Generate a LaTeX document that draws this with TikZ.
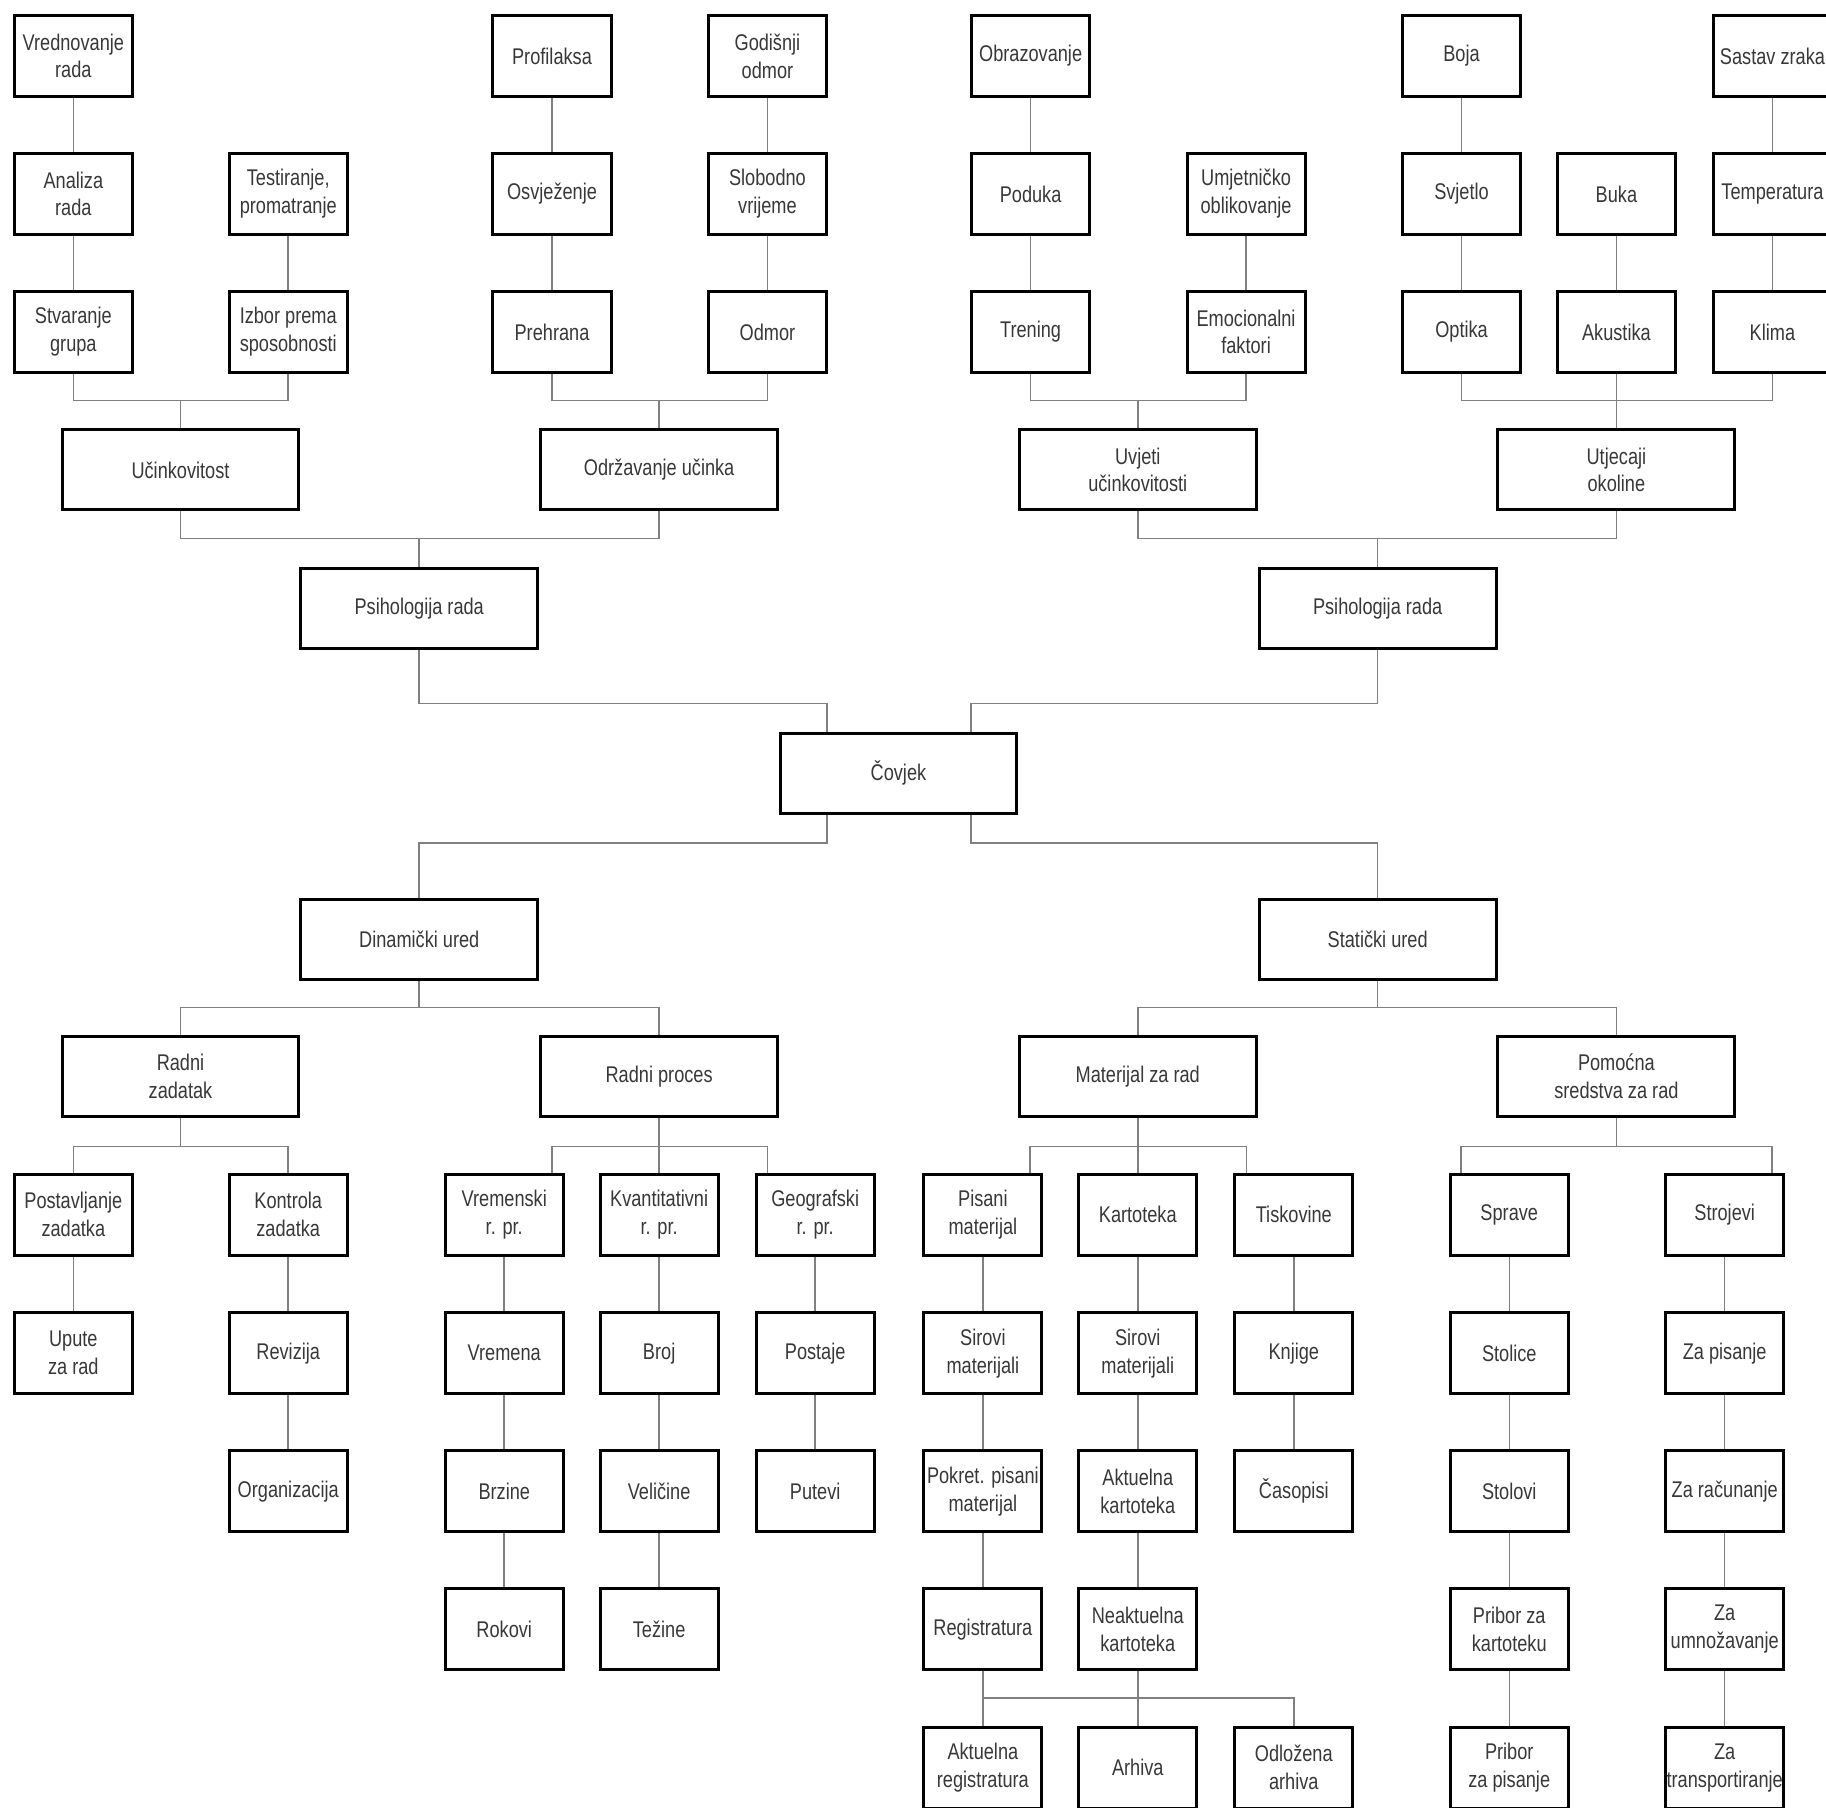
\documentclass[tikz,border=0pt]{standalone}
\usepackage{fontspec}
\setmainfont{Liberation Sans}[FakeStretch=0.8]
\begin{document}
\begin{tikzpicture}[x=1pt,y=-1pt,
  bx/.style={draw=black, line width=2.6pt, rectangle, minimum width=101.4pt,
    minimum height=69.4pt, inner sep=0pt, align=center,
    font=\fontsize{19.5}{24}\selectfont, text=black!78},
  lb/.style={bx, minimum width=203.4pt, minimum height=68.8pt},
  conn/.style={draw=black!50, line width=1.3pt}]
\path[fill=white, use as bounding box] (0,0) rectangle (1568,1551.7);

% ---- top groups ----
\node[bx] (vr)   at (63,48)      {Vrednovanje\\rada};
\node[bx] (an)   at (63,166.5)   {Analiza\\rada};
\node[bx] (stv)  at (63,285)     {Stvaranje\\grupa};
\node[bx] (tes)  at (247.5,166.5){Testiranje,\\promatranje};
\node[bx] (izb)  at (247.5,285)  {Izbor prema\\sposobnosti};
\node[bx] (pro)  at (474,48)     {Profilaksa};
\node[bx] (god)  at (659,48)     {Godišnji\\odmor};
\node[bx] (osv)  at (474,166.5)  {Osvježenje};
\node[bx] (slo)  at (659,166.5)  {Slobodno\\vrijeme};
\node[bx] (preh) at (474,285)    {Prehrana};
\node[bx] (odm)  at (659,285)    {Odmor};
\node[bx] (obr)  at (885,48)     {Obrazovanje};
\node[bx] (pod)  at (885,166.5)  {Poduka};
\node[bx] (umj)  at (1070,166.5) {Umjetničko\\oblikovanje};
\node[bx] (tre)  at (885,285)    {Trening};
\node[bx] (emo)  at (1070,285)   {Emocionalni\\faktori};
\node[bx] (boja) at (1255,48)    {Boja};
\node[bx] (svj)  at (1255,166.5) {Svjetlo};
\node[bx] (opt)  at (1255,285)   {Optika};
\node[bx] (buka) at (1388,166.5) {Buka};
\node[bx] (aku)  at (1388,285)   {Akustika};
\node[bx] (sast) at (1522,48)    {Sastav zraka};
\node[bx] (temp) at (1522,166.5) {Temperatura};
\node[bx] (kli)  at (1522,285)   {Klima};

% ---- large boxes ----
\node[lb] (uc)   at (155,403.5)  {Učinkovitost};
\node[lb] (odr)  at (566,403.5)  {Održavanje učinka};
\node[lb] (uvj)  at (977,403.5)  {Uvjeti\\učinkovitosti};
\node[lb] (utj)  at (1388,403.5) {Utjecaji\\okoline};
\node[lb] (psiL) at (360,522.5)  {Psihologija rada};
\node[lb] (psiR) at (1183,522.5) {Psihologija rada};
\node[lb] (cov)  at (771.5,664)  {Čovjek};
\node[lb] (dyn)  at (360,806.5)  {Dinamički ured};
\node[lb] (stat) at (1183,806.5) {Statički ured};
\node[lb] (rz)   at (155,924.5)  {Radni\\zadatak};
\node[lb] (rp)   at (566,924.5)  {Radni proces};
\node[lb] (mat)  at (977,924.5)  {Materijal za rad};
\node[lb] (pom)  at (1388,924.5) {Pomoćna\\sredstva za rad};

% ---- lower groups ----
\node[bx] (pos)  at (63,1043)    {Postavljanje\\zadatka};
\node[bx] (kon)  at (247.5,1043) {Kontrola\\zadatka};
\node[bx] (upu)  at (63,1162)    {Upute\\za rad};
\node[bx] (rev)  at (247.5,1162) {Revizija};
\node[bx] (org)  at (247.5,1280.5){Organizacija};
\node[bx] (vrem) at (433,1043)   {Vremenski\\r. pr.};
\node[bx] (kv)   at (566,1043)   {Kvantitativni\\r. pr.};
\node[bx] (geo)  at (700,1043)   {Geografski\\r. pr.};
\node[bx] (vre)  at (433,1162)   {Vremena};
\node[bx] (brz)  at (433,1280.5) {Brzine};
\node[bx] (rok)  at (433,1399)   {Rokovi};
\node[bx] (broj) at (566,1162)   {Broj};
\node[bx] (vel)  at (566,1280.5) {Veličine};
\node[bx] (tez)  at (566,1399)   {Težine};
\node[bx] (post) at (700,1162)   {Postaje};
\node[bx] (put)  at (700,1280.5) {Putevi};
\node[bx] (pis)  at (844,1043)   {Pisani\\materijal};
\node[bx] (kart) at (977,1043)   {Kartoteka};
\node[bx] (tis)  at (1111,1043)  {Tiskovine};
\node[bx] (sir1) at (844,1162)   {Sirovi\\materijali};
\node[bx] (sir2) at (977,1162)   {Sirovi\\materijali};
\node[bx] (knj)  at (1111,1162)  {Knjige};
\node[bx] (pok)  at (844,1280.5) {Pokret. pisani\\materijal};
\node[bx] (akt)  at (977,1280.5) {Aktuelna\\kartoteka};
\node[bx] (cas)  at (1111,1280.5){Časopisi};
\node[bx] (reg)  at (844,1399)   {Registratura};
\node[bx] (neak) at (977,1399)   {Neaktuelna\\kartoteka};
\node[bx] (aktreg) at (844,1518) {Aktuelna\\registratura};
\node[bx] (arh)  at (977,1518)   {Arhiva};
\node[bx] (odl)  at (1111,1518)  {Odložena\\arhiva};
\node[bx] (spr)  at (1296,1043)  {Sprave};
\node[bx] (str)  at (1481,1043)  {Strojevi};
\node[bx] (stol) at (1296,1162)  {Stolice};
\node[bx] (zp)   at (1481,1162)  {Za pisanje};
\node[bx] (stov) at (1296,1280.5){Stolovi};
\node[bx] (zr)   at (1481,1280.5){Za računanje};
\node[bx] (pk)   at (1296,1399)  {Pribor za\\kartoteku};
\node[bx] (zu)   at (1481,1399)  {Za\\umnožavanje};
\node[bx] (pp)   at (1296,1518)  {Pribor\\za pisanje};
\node[bx] (zt)   at (1481,1518)  {Za\\transportiranje};

% ---- junction coordinates ----
\coordinate (j1) at (155,344);
\coordinate (j2) at (566,344);
\coordinate (j3) at (977,344);
\coordinate (j4) at (1388,344);
\coordinate (j5) at (360,462.5);
\coordinate (j6) at (1183,462.5);
\coordinate (j7a) at (710,604);
\coordinate (j7b) at (834,604);
\coordinate (j8a) at (710,724);
\coordinate (j8b) at (834,724);
\coordinate (j9) at (360,865);
\coordinate (j10) at (1183,865);
\coordinate (j11) at (155,984.5);
\coordinate (j14) at (1388,984.5);
\coordinate (x474) at (474,984.5);
\coordinate (x659) at (659,984.5);
\coordinate (x884) at (884.5,984.5);
\coordinate (x1070) at (1070.5,984.5);
\coordinate (x1255) at (1254.5,984.5);
\coordinate (x1522) at (1521.5,984.5);
\coordinate (j15) at (977,1458);

% ---- connectors: top ----
\draw[conn] (vr) -- (an) -- (stv);
\draw[conn] (tes) -- (izb);
\draw[conn] (stv.south) |- (j1) -| (izb.south);
\draw[conn] (j1) -- (uc.north);
\draw[conn] (pro) -- (osv) -- (preh);
\draw[conn] (god) -- (slo) -- (odm);
\draw[conn] (preh.south) |- (j2) -| (odm.south);
\draw[conn] (j2) -- (odr.north);
\draw[conn] (obr) -- (pod) -- (tre);
\draw[conn] (umj) -- (emo);
\draw[conn] (tre.south) |- (j3) -| (emo.south);
\draw[conn] (j3) -- (uvj.north);
\draw[conn] (boja) -- (svj) -- (opt);
\draw[conn] (buka) -- (aku);
\draw[conn] (sast) -- (temp) -- (kli);
\draw[conn] (opt.south) |- (j4) -| (kli.south);
\draw[conn] (aku.south) -- (utj.north);
\draw[conn] (uc.south) |- (j5) -| (odr.south);
\draw[conn] (j5) -- (psiL.north);
\draw[conn] (uvj.south) |- (j6) -| (utj.south);
\draw[conn] (j6) -- (psiR.north);
\draw[conn] (psiL.south) |- (j7a) -- (j7a |- cov.north);
\draw[conn] (psiR.south) |- (j7b) -- (j7b |- cov.north);

% ---- connectors: bottom ----
\draw[conn] (j8a |- cov.south) -- (j8a) -| (dyn.north);
\draw[conn] (j8b |- cov.south) -- (j8b) -| (stat.north);
\draw[conn] (rz.north) |- (j9) -| (rp.north);
\draw[conn] (dyn.south) -- (j9);
\draw[conn] (mat.north) |- (j10) -| (pom.north);
\draw[conn] (stat.south) -- (j10);
\draw[conn] (pos.north) |- (j11) -| (kon.north);
\draw[conn] (rz.south) -- (j11);
\draw[conn] (pos) -- (upu);
\draw[conn] (kon) -- (rev) -- (org);
\draw[conn] (x474 |- vrem.north) -- (x474) -- (x659) -- (x659 |- geo.north);
\draw[conn] (rp.south) -- (kv.north);
\draw[conn] (vrem) -- (vre) -- (brz) -- (rok);
\draw[conn] (kv) -- (broj) -- (vel) -- (tez);
\draw[conn] (geo) -- (post) -- (put);
\draw[conn] (x884 |- pis.north) -- (x884) -- (x1070) -- (x1070 |- tis.north);
\draw[conn] (mat.south) -- (kart.north);
\draw[conn] (pis) -- (sir1) -- (pok) -- (reg);
\draw[conn] (kart) -- (sir2) -- (akt) -- (neak);
\draw[conn] (tis) -- (knj) -- (cas);
\draw[conn] (reg) -- (aktreg);
\draw[conn] (neak) -- (arh);
\draw[conn] (aktreg.north |- j15) -| (odl.north);
\draw[conn] (x1255 |- spr.north) -- (x1255) -- (x1522) -- (x1522 |- str.north);
\draw[conn] (pom.south) -- (j14);
\draw[conn] (spr) -- (stol) -- (stov) -- (pk) -- (pp);
\draw[conn] (str) -- (zp) -- (zr) -- (zu) -- (zt);
\end{tikzpicture}
\end{document}
